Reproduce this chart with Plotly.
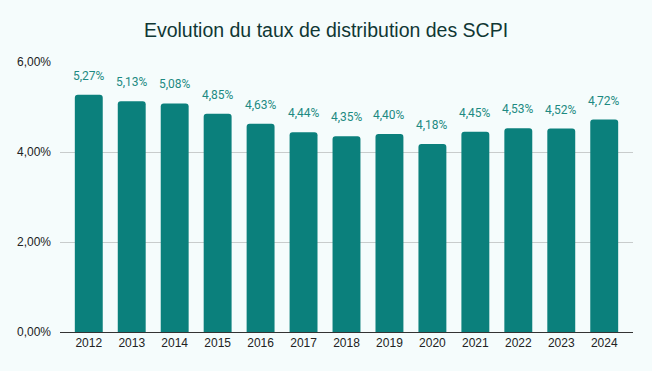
import plotly.graph_objects as go

years = ["2012", "2013", "2014", "2015", "2016", "2017", "2018", "2019", "2020", "2021", "2022", "2023", "2024"]
rates = [5.27, 5.13, 5.08, 4.85, 4.63, 4.44, 4.35, 4.40, 4.18, 4.45, 4.53, 4.52, 4.72]
y_ticks = [0, 2, 4, 6]
y_tick_labels = ["0,00%", "2,00%", "4,00%", "6,00%"]

bar_color = "#0b807c"
label_color = "#1d8a82"
bg = "#f5fcfc"

fig = go.Figure()
fig.add_trace(go.Bar(x=list(range(len(years))), y=rates, marker_color=bar_color,
                     marker_line_width=0, width=0.65, hoverinfo="skip"))

for i, v in enumerate(rates):
    fig.add_annotation(x=i, y=v, text=f"{v:.2f}".replace(".", ",") + "%",
                       showarrow=False, yanchor="bottom", yshift=10,
                       font=dict(family="Roboto", size=12, color=label_color))

fig.update_layout(
    width=652, height=371,
    margin=dict(l=60, r=19, t=62, b=39),
    paper_bgcolor=bg, plot_bgcolor=bg,
    barcornerradius=3,
    showlegend=False,
    title=dict(text="Evolution du taux de distribution des SCPI", x=0.5, xanchor="center",
               y=1 - 30 / 371, yanchor="middle", yref="container",
               font=dict(family="Liberation Sans, Arial", size=19.5, color="#103734")),
    xaxis=dict(tickmode="array", tickvals=list(range(len(years))), ticktext=years,
               range=[-0.67, 12.67], showgrid=False, showline=True, linecolor="#333333",
               linewidth=1, ticks="", tickfont=dict(family="Liberation Sans, Arial", size=12, color="#222222"),
               fixedrange=True),
    yaxis=dict(tickmode="array", tickvals=y_ticks, ticktext=y_tick_labels, range=[0, 6],
               showgrid=True, gridcolor="#c8cccc", gridwidth=1, zeroline=False,
               ticks="", ticklabelstandoff=8,
               tickfont=dict(family="Liberation Sans, Arial", size=12, color="#222222"),
               fixedrange=True),
)

fig.write_html("out.html", config={"displayModeBar": False},
               post_script="document.body.style.margin='0';document.body.style.background='%s';" % bg)
